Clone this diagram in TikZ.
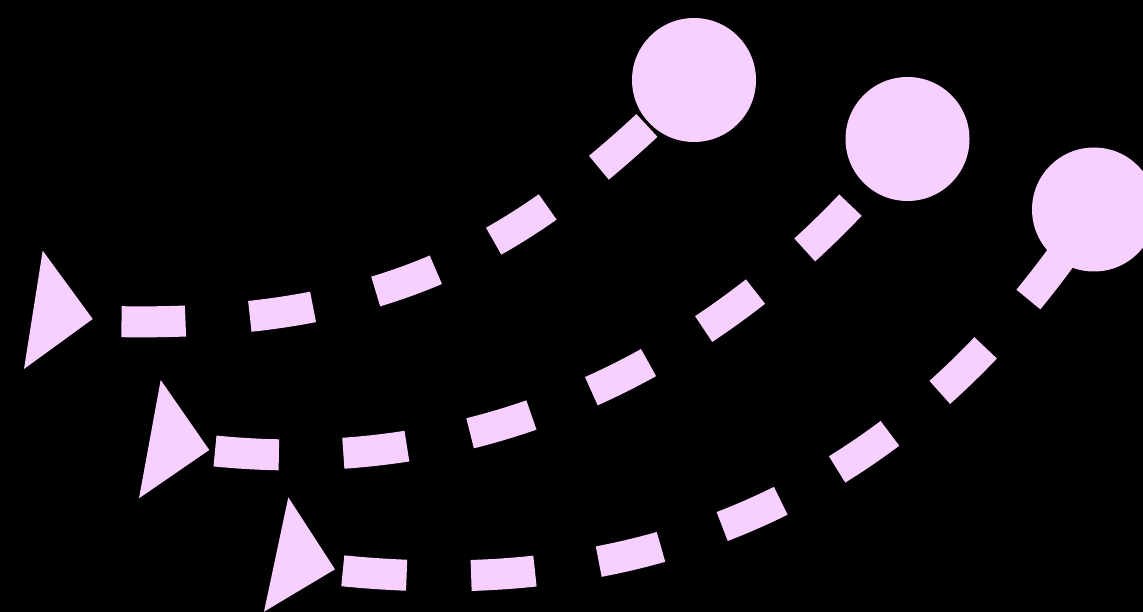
\documentclass[tikz,border=0pt]{standalone}
\definecolor{pinkfill}{HTML}{F8D0FF}
\pgfdeclarelayer{back}
\pgfdeclarelayer{lines}
\pgfsetlayers{back,lines,main}
\begin{document}
\begin{tikzpicture}[x=1pt,y=-1pt,
  dashline/.style={draw=pinkfill, line width=31pt, dash pattern=on 64pt off 64.5pt},
  endball/.style={circle, fill=pinkfill, minimum size=124pt, inner sep=0pt, outer sep=0pt},
  tipfill/.style={fill=pinkfill}]
\useasboundingbox (0,0) rectangle (1143,612);
\begin{pgfonlayer}{back}
\fill[black] (0,0) rectangle (1143,612);
\end{pgfonlayer}
% end balls
\node[endball] (c1) at (694,80) {};
\node[endball] (c2) at (907.5,139) {};
\node[endball] (c3) at (1094,209.5) {};
% start points of the dashed lines
\coordinate (s1) at (121.5,321.7);
\coordinate (s2) at (215,451);
\coordinate (s3) at (342.8,570.8);
% dashed connectors
\begin{pgfonlayer}{lines}
\draw[dashline] (s1) .. controls (400,326) and (534,240) .. (c1.center);
\draw[dashline] (s2) .. controls (540,483.5) and (775.1,308.4) .. (c2.center);
\draw[dashline] (s3) .. controls (722.8,608.8) and (951.2,429.3) .. (c3.center);
\end{pgfonlayer}
% triangle heads
\coordinate (t1a) at (42.7,250.7);
\coordinate (t1b) at (92.7,319);
\coordinate (t1c) at (24,369);
\coordinate (t2a) at (160.7,380);
\coordinate (t2b) at (209.3,450);
\coordinate (t2c) at (139,498.3);
\coordinate (t3a) at (288.3,497.3);
\coordinate (t3b) at (335,569.3);
\coordinate (t3c) at (264,611.7);
\fill[tipfill] (t1a) -- (t1b) -- (t1c) -- cycle;
\fill[tipfill] (t2a) -- (t2b) -- (t2c) -- cycle;
\fill[tipfill] (t3a) -- (t3b) -- (t3c) -- cycle;
\end{tikzpicture}
\end{document}
